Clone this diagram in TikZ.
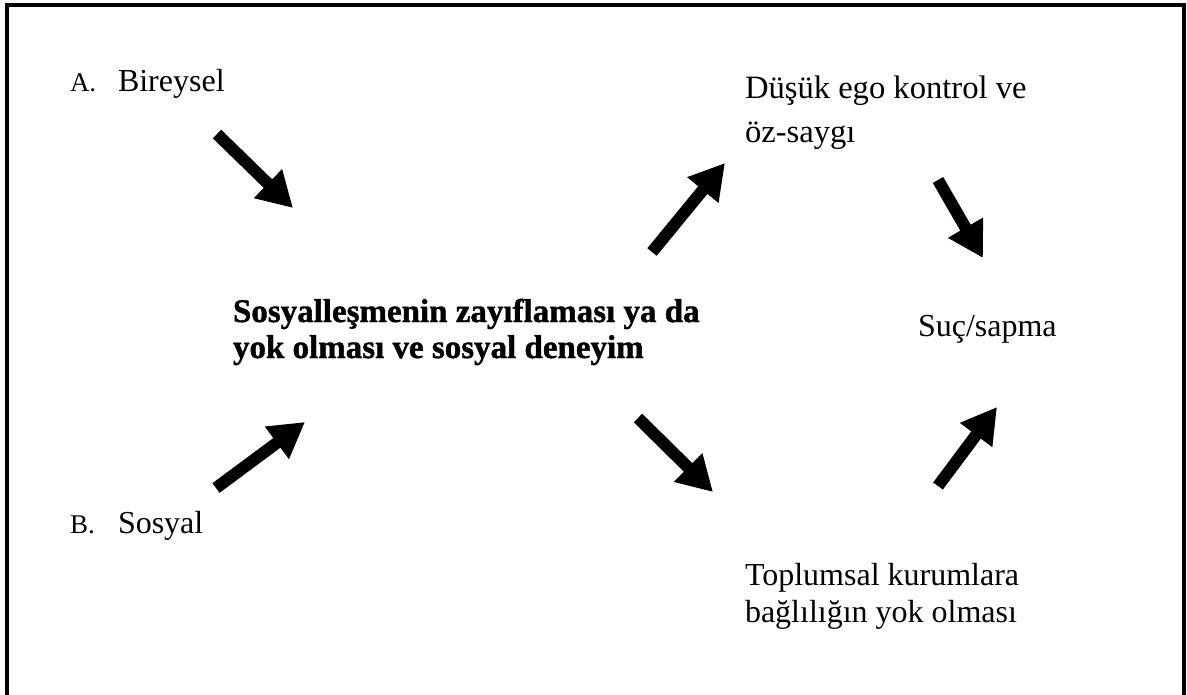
\documentclass[tikz,border=0pt]{standalone}
\usepackage{fontspec}
\setmainfont{Liberation Serif}
\newfontfamily\heavyserif[FakeBold=1.2]{Liberation Serif Bold}
\usetikzlibrary{arrows.meta}
\begin{document}
\begin{tikzpicture}[x=1pt,y=-1pt,
  lbl/.style={anchor=base west,inner sep=0pt,outer sep=0pt,font=\fontsize{32}{38}\selectfont},
  letter/.style={anchor=base west,inner sep=0pt,outer sep=0pt,font=\fontsize{27}{30}\selectfont},
  boldlbl/.style={anchor=base west,inner sep=0pt,outer sep=0pt,font=\fontsize{33}{38}\heavyserif},
  bigarrow/.style={line width=12pt,line cap=butt,-{Triangle[length=35pt,width=38pt]}},
  frame/.style={line width=4pt,line join=miter}]
\useasboundingbox (0,0) rectangle (1187,694);
\draw[frame] (7,700) -- (7,5) -- (1184,5) -- (1184,700);
% labels
\node[letter] (la) at (70,91) {A.};
\node[lbl] (bireysel) at (118,91) {Bireysel};
\node[letter] (lb) at (70,533) {B.};
\node[lbl] (sosyal) at (118,533) {Sosyal};
\node[boldlbl] (centerA) at (233,322) {Sosyalleşmenin zayıflaması ya da};
\node[boldlbl] (centerB) at (233,358) {yok olması ve sosyal deneyim};
\node[lbl,font=\fontsize{32.6}{38}\selectfont] (dusukA) at (745,98) {Düşük ego kontrol ve};
\node[lbl,font=\fontsize{32.6}{38}\selectfont] (dusukB) at (745,142) {öz-saygı};
\node[lbl] (suc) at (918,336) {Suç/sapma};
\node[lbl] (toplumA) at (745,585) {Toplumsal kurumlara};
\node[lbl] (toplumB) at (745,622) {bağlılığın yok olması};
% arrow end points
\coordinate (t1) at (217,134); \coordinate (h1) at (293,208);
\coordinate (t2) at (216,488); \coordinate (h2) at (305,422);
\coordinate (t3) at (652,252); \coordinate (h3) at (725,163);
\coordinate (t4) at (638,418); \coordinate (h4) at (713,492);
\coordinate (t5) at (938,180); \coordinate (h5) at (983,258);
\coordinate (t6) at (938,486); \coordinate (h6) at (997,407);
\foreach \i in {1,...,6} \draw[bigarrow] (t\i) -- (h\i);
\end{tikzpicture}
\end{document}
